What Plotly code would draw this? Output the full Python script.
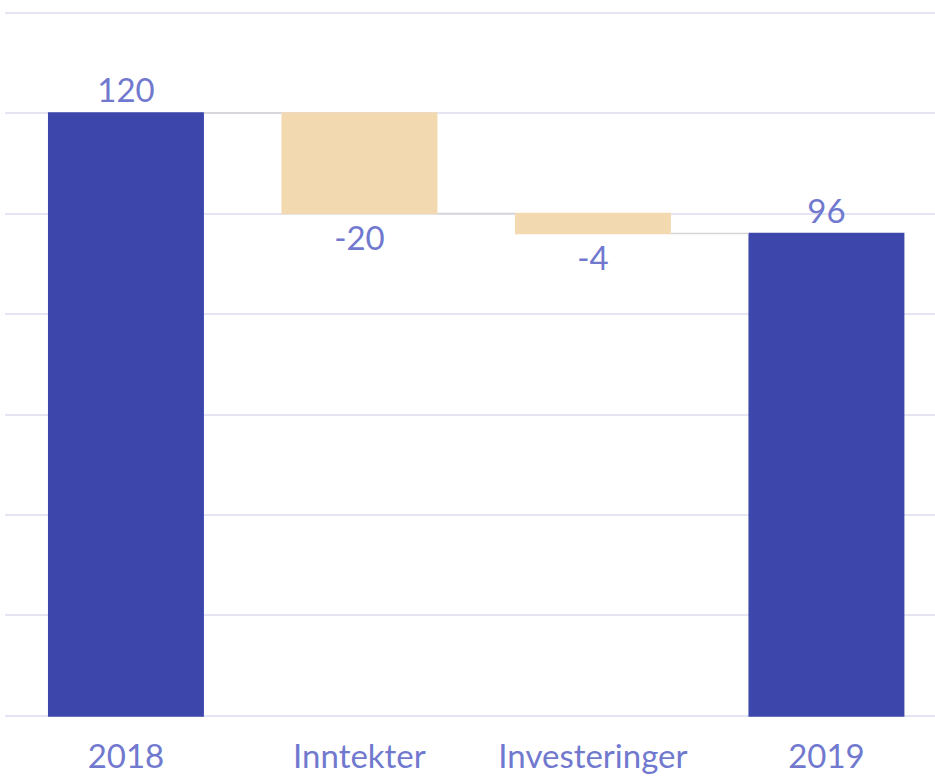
import plotly.graph_objects as go

categories = ["2018", "Inntekter", "Investeringer", "2019"]
measures = ["absolute", "relative", "relative", "total"]
values = [120, -20, -4, 0]
labels = ["120", "-20", "-4", "96"]

FONT = "Lato, Open Sans, sans-serif"

fig = go.Figure(go.Waterfall(
    x=categories,
    y=values,
    measure=measures,
    text=labels,
    texttemplate="%{text}",
    textposition="outside",
    textfont=dict(color="#7179cf", size=33, family=FONT),
    totals=dict(marker=dict(color="#3c46ab")),
    decreasing=dict(marker=dict(color="#f2d9b0")),
    increasing=dict(marker=dict(color="#f2d9b0")),
    connector=dict(line=dict(color="#d4d4d4", width=1.5)),
    cliponaxis=False,
))

fig.update_layout(
    width=935, height=776,
    margin=dict(l=5, r=0, t=9, b=58, autoexpand=False),
    paper_bgcolor="white", plot_bgcolor="white",
    showlegend=False,
    waterfallgap=0.332,
    font=dict(family=FONT, color="#7179cf", size=33),
    xaxis=dict(range=[-0.518, 3.465], showgrid=False, zeroline=False, automargin=False,
               tickfont=dict(size=33, color="#7179cf", family=FONT),
               ticks="outside", ticklen=9, tickcolor="rgba(0,0,0,0)"),
    yaxis=dict(range=[-0.4, 140.7], dtick=20, showticklabels=False, gridcolor="#e4e4f3",
               gridwidth=2, zeroline=True, zerolinecolor="#e4e4f3", zerolinewidth=2,
               showline=False, automargin=False),
)

fig.write_html("out.html", config={"displayModeBar": False},
               post_script="document.body.style.margin='0';")
